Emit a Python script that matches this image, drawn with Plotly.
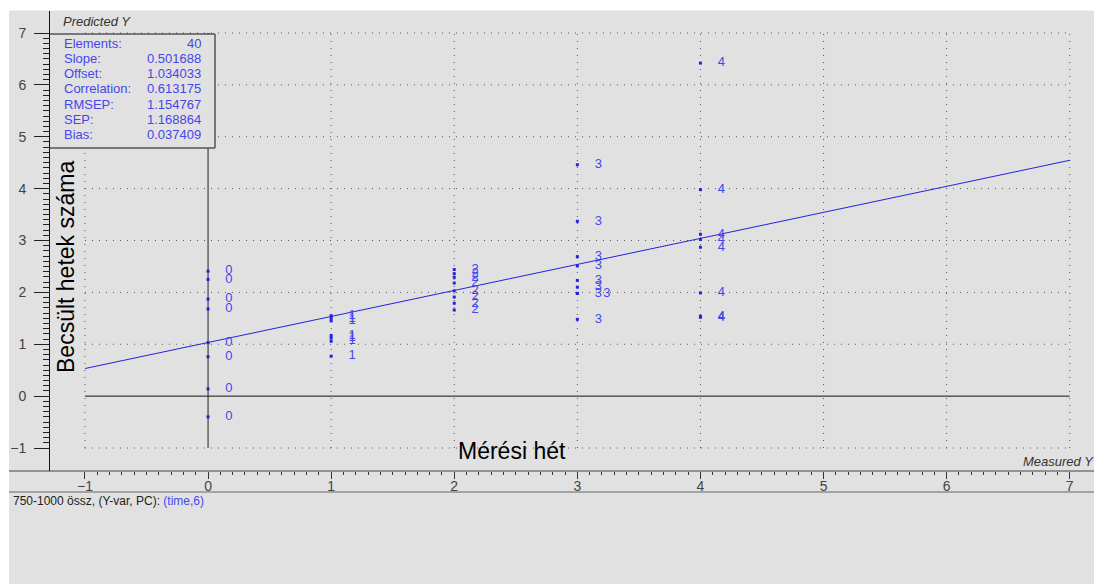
import plotly.graph_objects as go
import numpy as np

# ---- data ----
measured_0 = [0, 0, 0, 0, 0, 0, 0, 0]
predicted_0 = [2.41, 2.25, 1.87, 1.68, 1.03, 0.76, 0.14, -0.40]
measured_1 = [1, 1, 1, 1, 1, 1, 1]
predicted_1 = [1.55, 1.50, 1.45, 1.17, 1.12, 1.06, 0.77]
measured_2 = [2, 2, 2, 2, 2, 2, 2, 2]
predicted_2 = [2.44, 2.36, 2.29, 2.18, 2.03, 1.91, 1.79, 1.66]
measured_3 = [3, 3, 3, 3, 3, 3, 3, 3, 3]
predicted_3 = [4.46, 3.37, 2.69, 2.51, 2.23, 2.10, 1.98, 1.98, 1.48]
measured_4 = [4, 4, 4, 4, 4, 4, 4, 4]
predicted_4 = [6.42, 3.98, 3.12, 3.02, 2.87, 1.99, 1.54, 1.52]

stat_names = ["Elements:", "Slope:", "Offset:", "Correlation:", "RMSEP:", "SEP:", "Bias:"]
stat_values = ["40", "0.501688", "1.034033", "0.613175", "1.154767", "1.168864", "0.037409"]
slope = 0.501688
offset = 1.034033

tick_values = [-1, 0, 1, 2, 3, 4, 5, 6, 7]

measured = measured_0 + measured_1 + measured_2 + measured_3 + measured_4
predicted = predicted_0 + predicted_1 + predicted_2 + predicted_3 + predicted_4

# ---- styles ----
BG = "#e1e1e1"
BLUE = "rgb(35,35,225)"
LBLUE = "rgb(70,70,235)"
FONT = "Liberation Sans"

# page places the figure 8px from the top-left corner
OX, OY = 8, 8
W, H = 1102 - OX, 584 - OY
# plot area in page pixels: x 50..1100, y 11..471
L, R, T, B = 50 - OX, 1102 - 1100, 11 - OY, 584 - 471
PW, PH = W - L - R, H - T - B


def px(x):  # page pixel -> paper x
    return (x - OX - L) / PW


def py(y):  # page pixel -> paper y
    return (H - B - (y - OY)) / PH


# label positions (small offset to the right, duplicates shifted)
lab_x, lab_y, lab_t = [], [], []
seen = {}
for m, p in zip(measured, predicted):
    k = (m, round(p, 2))
    c = seen.get(k, 0)
    seen[k] = c + 1
    lab_x.append(m + 0.17 + 0.07 * c)
    lab_y.append(p)
    lab_t.append(str(int(m)))

fig = go.Figure()

# regression line
lx = np.array([tick_values[0], tick_values[-1]], dtype=float)
fig.add_trace(go.Scatter(x=lx, y=offset + slope * lx, mode="lines",
                         line=dict(color=BLUE, width=1), hoverinfo="skip"))

fig.add_trace(go.Scatter(x=measured, y=predicted, mode="markers",
                         marker=dict(symbol="square", size=3, color=BLUE, line=dict(width=0))))
fig.add_trace(go.Scatter(x=lab_x, y=lab_y, mode="text", text=lab_t,
                         textposition="middle center",
                         textfont=dict(family=FONT, size=13, color=LBLUE)))

shapes = []
lo, hi = tick_values[0], tick_values[-1]
for v in tick_values:
    if v != 0:
        shapes.append(dict(type="line", xref="x", yref="y", x0=lo, x1=hi, y0=v, y1=v,
                           line=dict(color="#555555", width=1, dash="1px,6px"), layer="below"))
        shapes.append(dict(type="line", xref="x", yref="y", x0=v, x1=v, y0=lo, y1=hi,
                           line=dict(color="#555555", width=1, dash="1px,6px"), layer="below"))
# origin lines
shapes.append(dict(type="line", xref="x", yref="y", x0=lo, x1=hi, y0=0, y1=0,
                   line=dict(color="#111111", width=1), layer="below"))
shapes.append(dict(type="line", xref="x", yref="y", x0=0, x1=0, y0=lo, y1=hi,
                   line=dict(color="#222222", width=1), layer="below"))

# stat box
bx0, bx1, by0, by1 = px(50), px(215), py(148), py(34)
shapes.append(dict(type="rect", xref="paper", yref="paper", x0=bx0, x1=bx1, y0=by0, y1=by1,
                   fillcolor=BG, line=dict(width=0), layer="above"))
shapes.append(dict(type="line", xref="paper", yref="paper", x0=bx0, x1=bx1, y0=by1, y1=by1,
                   line=dict(color="#111111", width=1), layer="above"))
shapes.append(dict(type="line", xref="paper", yref="paper", x0=bx1, x1=bx1, y0=by0, y1=by1,
                   line=dict(color="#555555", width=1.5), layer="above"))
shapes.append(dict(type="line", xref="paper", yref="paper", x0=bx0, x1=bx1, y0=by0, y1=by0,
                   line=dict(color="#555555", width=1.5), layer="above"))

# bottom frame lines
shapes.append(dict(type="line", xref="paper", yref="paper", x0=px(9), x1=1.01, y0=py(471), y1=py(471),
                   line=dict(color="#444444", width=1), layer="above"))
shapes.append(dict(type="line", xref="paper", yref="paper", x0=px(9), x1=1.01, y0=py(492), y1=py(492),
                   line=dict(color="#666666", width=1), layer="above"))
# white strips (left and top)
shapes.append(dict(type="rect", xref="paper", yref="paper", x0=px(OX), x1=px(9), y0=py(584), y1=py(OY),
                   fillcolor="white", line=dict(width=0), layer="above"))
shapes.append(dict(type="rect", xref="paper", yref="paper", x0=px(OX), x1=px(1102), y0=py(10.5), y1=py(OY),
                   fillcolor="white", line=dict(width=0), layer="above"))

ann = []
for i, (n, v) in enumerate(zip(stat_names, stat_values)):
    yy = py(43 + i * 15.3)
    ann.append(dict(xref="paper", yref="paper", x=px(62), y=yy, text=n, showarrow=False,
                    xanchor="left", yanchor="middle", font=dict(family=FONT, size=13, color=LBLUE)))
    ann.append(dict(xref="paper", yref="paper", x=px(203), y=yy, text=v, showarrow=False,
                    xanchor="right", yanchor="middle", font=dict(family=FONT, size=13, color=LBLUE)))
ann.append(dict(xref="paper", yref="paper", x=px(61), y=py(22), text="<i>Predicted Y</i>", showarrow=False,
                xanchor="left", yanchor="middle", font=dict(family=FONT, size=13, color="#333333")))
ann.append(dict(xref="paper", yref="paper", x=px(1096), y=py(461), text="<i>Measured Y</i>", showarrow=False,
                xanchor="right", yanchor="middle", font=dict(family=FONT, size=13, color="#333333")))
ann.append(dict(xref="paper", yref="paper", x=px(66), y=py(267), text="Becsült hetek száma", showarrow=False,
                textangle=-90, xanchor="center", yanchor="middle", font=dict(family=FONT, size=23, color="black")))
ann.append(dict(xref="paper", yref="paper", x=px(512), y=py(451), text="Mérési hét", showarrow=False,
                xanchor="center", yanchor="middle", font=dict(family=FONT, size=23, color="black")))
ann.append(dict(xref="paper", yref="paper", x=px(11), y=py(501),
                text="750-1000 össz, (Y-var, PC): <span style='color:" + LBLUE + "'>(time,6)</span>",
                showarrow=False, xanchor="left", yanchor="middle", font=dict(family=FONT, size=12, color="#222222")))

minor_vals = [round(v, 1) for v in np.arange(lo, hi + 0.001, 0.1) if abs(v - round(v)) > 1e-6]

fig.update_layout(
    width=W, height=H, margin=dict(l=L, r=R, t=T, b=B, pad=0),
    paper_bgcolor=BG, plot_bgcolor=BG, showlegend=False,
    shapes=shapes, annotations=ann,
    xaxis=dict(range=[-1.284, 7.246], showgrid=False, zeroline=False, showline=False,
               tickmode="array", tickvals=tick_values, ticks="outside", ticklen=7, tickwidth=1,
               tickcolor="#333333", tickfont=dict(family=FONT, size=14, color="#444444"),
               ticklabelstandoff=-5,
               minor=dict(tickmode="array", tickvals=minor_vals, ticks="outside", ticklen=3,
                          tickcolor="#333333", showgrid=False)),
    yaxis=dict(range=[-1.443, 7.424], showgrid=False, zeroline=False, showline=True,
               linecolor="#111111", linewidth=1,
               tickmode="array", tickvals=tick_values, ticks="outside", ticklen=15, tickwidth=1,
               tickcolor="#222222", tickfont=dict(family=FONT, size=14, color="#444444"),
               ticklabelstandoff=5,
               minor=dict(tickmode="array", tickvals=minor_vals, ticks="outside", ticklen=6,
                          tickcolor="#222222", showgrid=False)),
)

fig.write_html("out.html")
